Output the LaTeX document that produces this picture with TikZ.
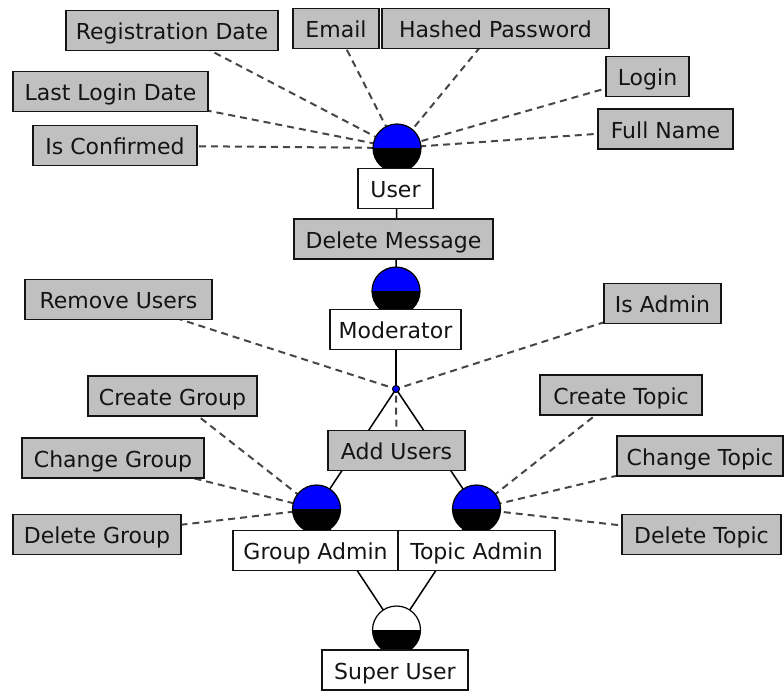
\documentclass[tikz,border=0pt]{standalone}
\usepackage{fontspec}
\setmainfont{DejaVu Sans}
\usetikzlibrary{backgrounds}
\definecolor{featgray}{RGB}{192,192,192}
\definecolor{dashgray}{RGB}{70,70,70}
\definecolor{inkdark}{RGB}{20,20,20}
\tikzset{
  box/.style={draw=inkdark, line width=1.5pt, inner sep=0pt, text=inkdark,
    font=\fontsize{22}{25}\selectfont, text height=19pt, text depth=1pt,
    minimum height=40pt},
  featbox/.style={box, fill=featgray},
  rolebox/.style={box, fill=white},
  rolecirc/.style={circle, draw=black, line width=1.2pt, minimum size=48pt, inner sep=0pt,
    path picture={
      \fill[#1] (path picture bounding box.south west) rectangle (path picture bounding box.north east);
      \fill[black] (path picture bounding box.west) rectangle (path picture bounding box.south east);
    }},
  groupdot/.style={circle, draw=black, fill=blue, line width=1pt, minimum size=7pt, inner sep=0pt},
  featlink/.style={draw=dashgray, line width=2pt, dash pattern=on 7pt off 5pt},
  rolelink/.style={draw=black, line width=1.5pt},
}
\begin{document}
\begin{tikzpicture}[x=1pt,y=-1pt]
\useasboundingbox (0,0) rectangle (784,691);

% role circles
\node[rolecirc=blue]  (cu)  at (397,148)   {};
\node[rolecirc=blue]  (cm)  at (396,291)   {};
\node[groupdot]       (cg)  at (396,389)   {};
\node[rolecirc=blue]  (cga) at (316.5,509) {};
\node[rolecirc=blue]  (cta) at (476.5,509) {};
\node[rolecirc=white] (csu) at (396.5,630) {};

% role names
\node[rolebox, minimum width=75pt]  (user) at (395.5,188.5) {User};
\node[rolebox, minimum width=131pt] (mod)  at (395.5,329.5) {Moderator};
\node[rolebox, minimum width=165pt] (ga)   at (315.5,550.5) {Group Admin};
\node[rolebox, minimum width=157pt] (ta)   at (476.5,550.5) {Topic Admin};
\node[rolebox, minimum width=146pt] (su)   at (395,670)     {Super User};

% features
\node[featbox, minimum width=212pt] (reg)   at (172,30.5)   {Registration Date};
\node[featbox, minimum width=86pt]  (email) at (336,28.5)   {Email};
\node[featbox, minimum width=227pt] (hash)  at (495.5,28.5) {Hashed Password};
\node[featbox, minimum width=83pt]  (login) at (647.5,76.5) {Login};
\node[featbox, minimum width=195pt] (last)  at (110.5,91.5) {Last Login Date};
\node[featbox, minimum width=135pt] (full)  at (665.5,129)  {Full Name};
\node[featbox, minimum width=164pt] (conf)  at (115,145.5)  {Is Confirmed};
\node[featbox, minimum width=199pt] (delm)  at (393.5,239)  {Delete Message};
\node[featbox, minimum width=187pt] (remu)  at (118.5,299.5) {Remove Users};
\node[featbox, minimum width=117pt] (adm)   at (662.5,303.5) {Is Admin};
\node[featbox, minimum width=137pt] (addu)  at (396.5,450.5) {Add Users};
\node[featbox, minimum width=169pt] (crg)   at (172.5,396)  {Create Group};
\node[featbox, minimum width=182pt] (chg)   at (113,458)    {Change Group};
\node[featbox, minimum width=168pt] (dlg)   at (97,534.5)   {Delete Group};
\node[featbox, minimum width=162pt] (crt)   at (621,395)    {Create Topic};
\node[featbox, minimum width=166pt] (cht)   at (700,456)    {Change Topic};
\node[featbox, minimum width=159pt] (dlt)   at (701.5,534.5) {Delete Topic};

\begin{scope}[on background layer]
  % hierarchy
  \draw[rolelink] (cu.center) -- (cm.center);
  \draw[rolelink] (cm.center) -- (cg.center);
  \draw[rolelink] (cg.center) -- (cga.center);
  \draw[rolelink] (cg.center) -- (cta.center);
  \draw[rolelink] (cga.center) -- (csu.center);
  \draw[rolelink] (cta.center) -- (csu.center);
  % feature links
  \foreach \f in {reg,email,hash,login,last,full,conf}
    \draw[featlink] (\f.center) -- (cu.center);
  \foreach \f in {remu,adm,addu}
    \draw[featlink] (\f.center) -- (cg.center);
  \foreach \f in {crg,chg,dlg}
    \draw[featlink] (\f.center) -- (cga.center);
  \foreach \f in {crt,cht,dlt}
    \draw[featlink] (\f.center) -- (cta.center);
\end{scope}
\end{tikzpicture}
\end{document}
